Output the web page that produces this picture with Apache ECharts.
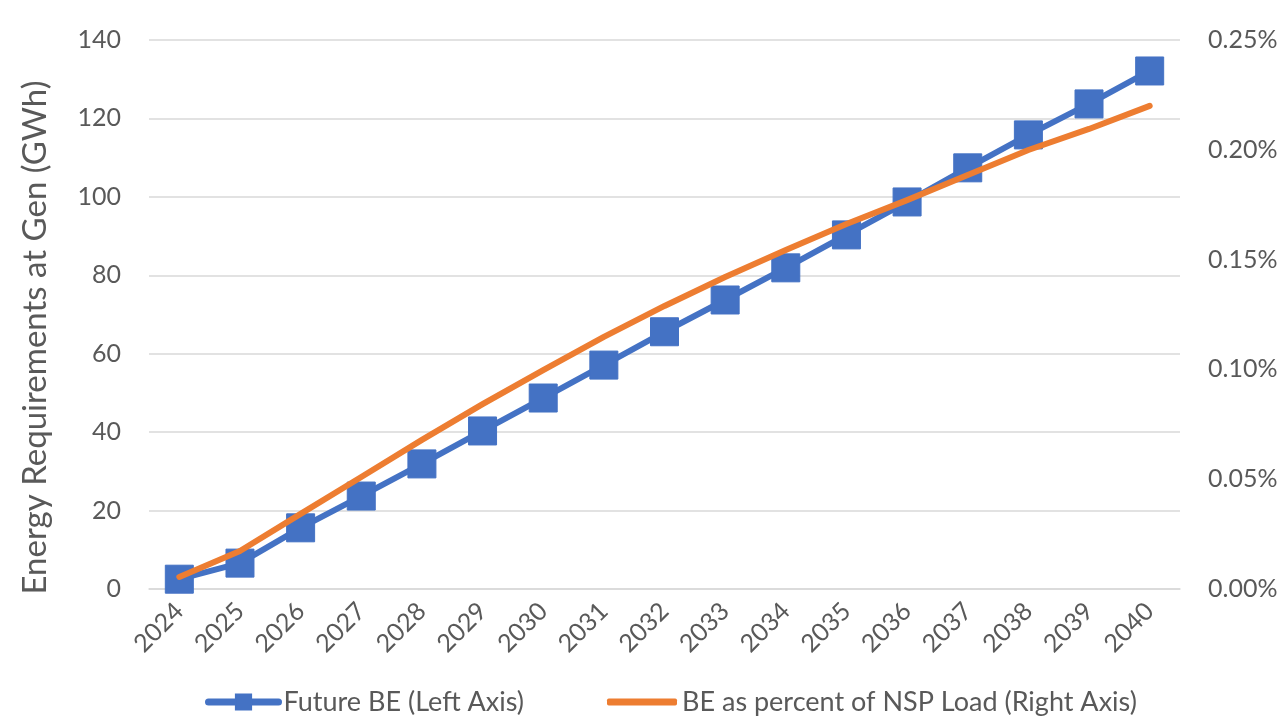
<!DOCTYPE html>
<html>
<head>
<meta charset="utf-8">
<script src="https://cdn.jsdelivr.net/npm/echarts@6/dist/echarts.min.js"></script>
<style>
  html, body { margin: 0; padding: 0; background: #fff; }
  #chart { width: 1285px; height: 719px; }
</style>
</head>
<body>
<div id="chart"></div>
<script>
// Study years
var years = ['2024','2025','2026','2027','2028','2029','2030','2031','2032','2033','2034','2035','2036','2037','2038','2039','2040'];
// Future beneficial electrification energy at generation (GWh)
var futureBE = [2.5, 6.6, 15.6, 23.7, 31.9, 40.3, 48.7, 57.1, 65.6, 73.7, 81.9, 90.3, 98.7, 107.4, 115.8, 123.7, 132.1];
// BE share of NSP load (percent)
var bePercent = [0.0055, 0.0173, 0.0342, 0.051, 0.0679, 0.0842, 0.0997, 0.1148, 0.1289, 0.1421, 0.1544, 0.1662, 0.1771, 0.1885, 0.1999, 0.2095, 0.220];

var seriesNames = ['Future BE (Left Axis)', 'BE as percent of NSP Load (Right Axis)'];
var leftAxisName = 'Energy Requirements at Gen (GWh)';

var FONT = 'Lato, "Open Sans", sans-serif';
var TXT = '#595959';
var BLUE = '#4472c4';
var ORANGE = '#ed7d31';

var chart = echarts.init(document.getElementById('chart'), null, { renderer: 'canvas' });
chart.setOption({
  animation: false,
  backgroundColor: '#ffffff',
  textStyle: { fontFamily: FONT, color: TXT },
  grid: { left: 149, right: 105, top: 40, bottom: 130, containLabel: false },
  legend: [
    {
      left: 205,
      top: 687,
      padding: 0,
      itemWidth: 70,
      itemHeight: 19,
      itemGap: 0,
      lineStyle: { width: 7, cap: 'round' },
      textStyle: { fontFamily: FONT, fontSize: 27, color: TXT, lineHeight: 30 },
      data: [seriesNames[0]]
    },
    {
      left: 607,
      top: 687,
      padding: 0,
      itemWidth: 70,
      itemHeight: 7,
      icon: 'roundRect',
      textStyle: { fontFamily: FONT, fontSize: 27, color: TXT, lineHeight: 30 },
      data: [seriesNames[1]]
    }
  ],
  xAxis: {
    type: 'category',
    data: years,
    boundaryGap: true,
    axisLine: { show: true, lineStyle: { color: '#d9d9d9', width: 1.5 } },
    axisTick: { show: false },
    axisLabel: { rotate: 45, margin: 18, fontFamily: FONT, fontSize: 25, color: TXT, interval: 0 }
  },
  yAxis: [
    {
      type: 'value',
      min: 0, max: 140, interval: 20,
      name: leftAxisName,
      nameLocation: 'middle',
      nameGap: 97,
      nameRotate: 90,
      nameTextStyle: { fontFamily: FONT, fontSize: 33, color: TXT, padding: [0, 46, 0, 0] },
      axisLine: { show: false },
      axisTick: { show: false },
      axisLabel: { margin: 28, fontFamily: FONT, fontSize: 25, color: TXT },
      splitLine: { lineStyle: { color: '#d9d9d9', width: 1.5 } }
    },
    {
      type: 'value',
      min: 0, max: 0.25, interval: 0.05,
      position: 'right',
      axisLine: { show: false },
      axisTick: { show: false },
      axisLabel: {
        margin: 28, fontFamily: FONT, fontSize: 25, color: TXT,
        formatter: function (v) { return v.toFixed(2) + '%'; }
      },
      splitLine: { show: false }
    }
  ],
  series: [
    {
      name: seriesNames[0],
      type: 'line',
      yAxisIndex: 0,
      data: futureBE,
      symbol: 'rect',
      symbolSize: 28,
      lineStyle: { color: BLUE, width: 6 },
      itemStyle: { color: BLUE, borderColor: BLUE, borderWidth: 1 },
      z: 2
    },
    {
      name: seriesNames[1],
      type: 'line',
      yAxisIndex: 1,
      data: bePercent,
      symbol: 'none',
      lineStyle: { color: ORANGE, width: 6, cap: 'round', join: 'round' },
      itemStyle: { color: ORANGE },
      z: 3
    }
  ]
});
</script>
</body>
</html>
